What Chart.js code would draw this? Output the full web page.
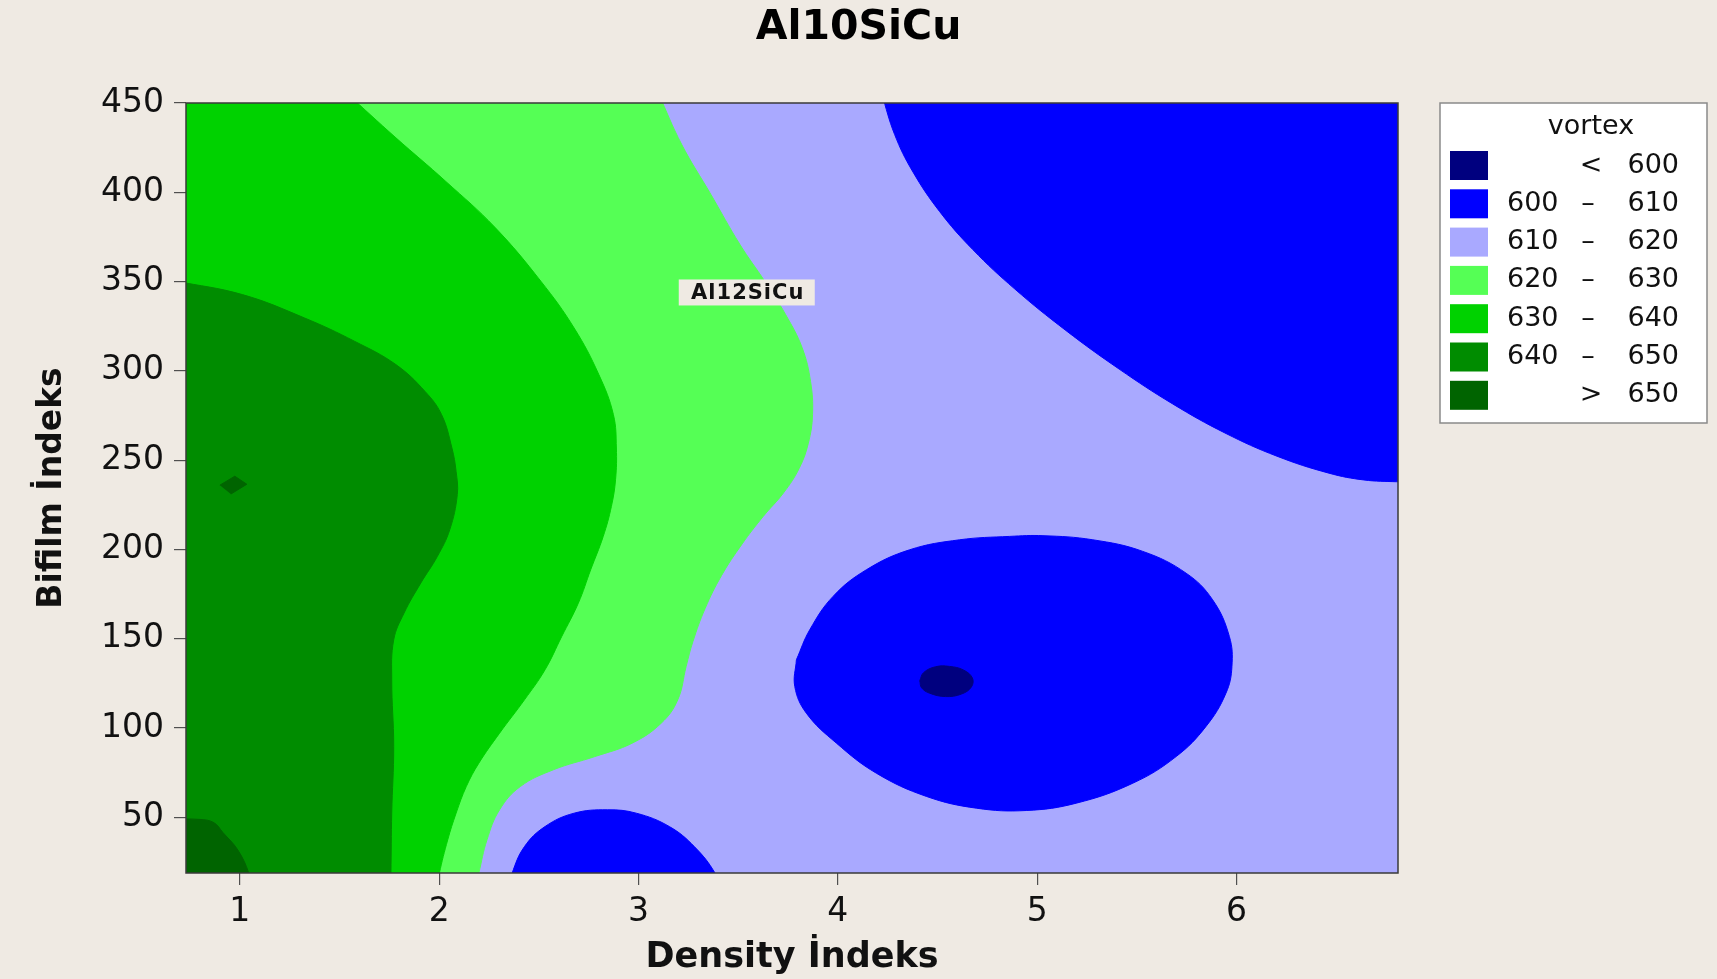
<!DOCTYPE html>
<html>
<head>
<meta charset="utf-8">
<title>Al10SiCu</title>
<script src="https://cdn.jsdelivr.net/npm/chart.js@4/dist/chart.umd.min.js"></script>
<style>
  html, body { margin: 0; padding: 0; background: #EFEAE3; }
  canvas { display: block; }
</style>
</head>
<body>
<canvas id="chart" width="1717" height="979" style="width:1717px;height:979px"></canvas>
<script>
// ---- axis ranges and ticks ----
const X_MIN = 0.73, X_MAX = 6.81;
const Y_MIN = 18.8, Y_MAX = 450;
const xTickValues = [1, 2, 3, 4, 5, 6];
const yTickValues = [50, 100, 150, 200, 250, 300, 350, 400, 450];

// ---- contour levels (vortex) ----
const legendTitle = 'vortex';
const levelBreaks = [600, 610, 620, 630, 640, 650];
const levelColors = ['#00007F', '#0000FF', '#A9A9FF', '#55FF55', '#00D200', '#008C00', '#006400'];

// ---- contour boundaries, [Density Indeks, Bifilm Indeks] ----
const contour620 = [
  [3.098, 455.8], [3.217, 426.7], [3.363, 398.8], [3.509, 370.7], [3.633, 350.2],
  [3.738, 331.5], [3.821, 312.9], [3.863, 294.1], [3.873, 275.5], [3.852, 259.5],
  [3.806, 245.4], [3.729, 231.9], [3.625, 218.4], [3.520, 203.1], [3.416, 185.3],
  [3.334, 166.9], [3.273, 148.4], [3.239, 134.5], [3.197, 115.8], [3.114, 102.7],
  [2.968, 91.5], [2.781, 84.0], [2.573, 76.6], [2.407, 67.2], [2.303, 54.2],
  [2.240, 37.4], [2.199, 18.7], [2.181, 10.0]
];
const contour630 = [
  [1.533, 455.8], [1.783, 430.5], [2.033, 406.1], [2.282, 380.1], [2.510, 350.2],
  [2.677, 324.0], [2.801, 297.9], [2.874, 275.5], [2.889, 256.8], [2.885, 239.3],
  [2.864, 224.1], [2.823, 207.3], [2.760, 188.6], [2.698, 169.9], [2.615, 151.3],
  [2.531, 132.6], [2.428, 115.8], [2.303, 97.1], [2.199, 80.3], [2.136, 67.2],
  [2.085, 52.3], [2.043, 37.4], [2.001, 18.7], [1.989, 10.0]
];
const contour640 = [
  [0.677, 350.3], [1.013, 342.7], [1.325, 329.6], [1.575, 316.6], [1.783, 303.5],
  [1.929, 288.5], [2.012, 275.5], [2.064, 256.8], [2.085, 243.7], [2.091, 230.7],
  [2.053, 211.0], [1.991, 196.1], [1.908, 181.2], [1.824, 164.4], [1.772, 149.4],
  [1.762, 127.0], [1.772, 89.6], [1.762, 52.3], [1.758, 18.7], [1.756, 10.0]
];
const contour650 = [
  [0.60, 49.0], [0.80, 48.8], [0.87, 47.0], [0.915, 41.5], [0.99, 31.7],
  [1.045, 18.7], [1.056, 10.0]
];
const peak650 = [[0.90, 236.0], [0.975, 241.0], [1.035, 236.5], [0.955, 231.0]];
const contourUpperBlue = [
  [4.219, 455.5], [4.285, 432.3], [4.374, 411.9], [4.510, 389.3], [4.677, 367.9],
  [4.888, 345.8], [5.144, 322.6], [5.411, 301.0], [5.678, 281.6], [5.942, 265.2],
  [6.203, 252.2], [6.464, 242.7], [6.639, 238.9], [6.804, 237.9], [6.950, 237.6]
];
const contourMidBlue = [
  [3.792, 138.2], [3.859, 155.0], [3.976, 173.7], [4.143, 188.6], [4.360, 199.8],
  [4.611, 205.4], [4.862, 207.3], [5.029, 207.7], [5.279, 205.4], [5.530, 198.9],
  [5.747, 186.7], [5.880, 171.8], [5.964, 151.3], [5.977, 134.5], [5.947, 119.5],
  [5.847, 100.9], [5.697, 84.0], [5.480, 69.1], [5.196, 57.9], [4.945, 53.8],
  [4.695, 55.1], [4.444, 61.7], [4.193, 74.7], [3.993, 91.5], [3.842, 108.3],
  [3.784, 123.2], [3.792, 138.2]
];
const contourLowBlue = [
  [2.351, 10.0], [2.366, 18.7], [2.428, 33.6], [2.531, 44.8], [2.677, 52.3],
  [2.844, 54.2], [2.989, 52.3], [3.155, 44.8], [3.280, 33.6], [3.384, 18.7], [3.405, 10.0]
];
const contourMin600 = [
  [4.411, 126.5], [4.43, 131.0], [4.49, 134.3], [4.56, 134.5], [4.63, 132.5],
  [4.675, 128.0], [4.67, 123.0], [4.62, 119.0], [4.54, 117.6], [4.46, 119.5],
  [4.42, 122.5], [4.411, 126.5]
];

// ---- text annotation inside the plot ----
const annotationText = 'Al12SiCu';
const annotationAt = { x: 3.543, y: 343.9 };

// ---- build filled regions, painted from back to front ----
const XL = X_MIN - 0.4, XR = X_MAX + 0.4, YB = Y_MIN - 30, YT = Y_MAX + 30;
const toPoints = arr => arr.map(([x, y]) => ({ x, y }));

// continue an open contour a little past both of its ends (outside the plot),
// so the spline keeps its direction where it crosses the frame
function extendEnds(c) {
  const a0 = c[0], a1 = c[1];
  const b0 = c[c.length - 1], b1 = c[c.length - 2];
  return [
    [a0[0] + (a0[0] - a1[0]), a0[1] + (a0[1] - a1[1])],
    ...c,
    [b0[0] + (b0[0] - b1[0]), b0[1] + (b0[1] - b1[1])]
  ];
}

let drawOrder = 100;
function region(points, color, tension) {
  return {
    data: toPoints(points),
    backgroundColor: color,
    borderColor: color,
    borderWidth: 1,
    fill: 'shape',
    pointRadius: 0,
    pointHoverRadius: 0,
    tension: tension,
    order: drawOrder--
  };
}

const datasets = [
  region([[XL, YB], [XL, YT], [XR, YT], [XR, YB]], levelColors[2], 0),
  region([[XL, YT], ...extendEnds(contour620), [XL, YB]], levelColors[3], 0.4),
  region([[XL, YT], ...extendEnds(contour630), [XL, YB]], levelColors[4], 0.4),
  region([...extendEnds(contour640), [XL, YB]], levelColors[5], 0.4),
  region([...extendEnds(contour650), [XL, YB]], levelColors[6], 0.4),
  region(peak650, levelColors[6], 0),
  region([...extendEnds(contourUpperBlue), [XR, YT]], levelColors[1], 0.4),
  region(extendEnds(contourLowBlue), levelColors[1], 0.4),
  region(contourMidBlue, levelColors[1], 0.4),
  region(contourMin600, levelColors[0], 0.4)
];

const PAGE_BG = '#EFEAE3';

const decorations = {
  id: 'decorations',
  afterDatasetsDraw(chart) {
    const { ctx, chartArea: a, scales: { x, y } } = chart;
    // label box
    const px = x.getPixelForValue(annotationAt.x);
    const py = y.getPixelForValue(annotationAt.y);
    ctx.save();
    ctx.fillStyle = PAGE_BG;
    ctx.fillRect(px - 68, py - 13, 136, 26);
    ctx.font = 'bold 21px "DejaVu Sans"';
    try { ctx.letterSpacing = '1px'; } catch (e) {}
    ctx.fillStyle = '#111';
    ctx.textAlign = 'center';
    ctx.textBaseline = 'middle';
    ctx.fillText(annotationText, px + 1, py + 1);
    ctx.restore();
    // plot frame
    ctx.save();
    ctx.strokeStyle = '#3a3a3a';
    ctx.lineWidth = 1.5;
    ctx.strokeRect(a.left, a.top, a.right - a.left, a.bottom - a.top);
    ctx.restore();
  },
  afterDraw(chart) {
    const ctx = chart.ctx;
    const box = { left: 1440, top: 103, width: 267, height: 320 };
    ctx.save();
    ctx.fillStyle = '#FFFFFF';
    ctx.fillRect(box.left, box.top, box.width, box.height);
    ctx.strokeStyle = '#8a8a8a';
    ctx.lineWidth = 1.5;
    ctx.strokeRect(box.left, box.top, box.width, box.height);

    ctx.font = '27px "DejaVu Sans"';
    ctx.fillStyle = '#111';
    ctx.textBaseline = 'middle';
    ctx.textAlign = 'center';
    ctx.fillText(legendTitle, 1591, 127);

    const n = levelColors.length;
    for (let i = 0; i < n; i++) {
      const cy = 165.5 + i * 38.3;
      ctx.fillStyle = levelColors[i];
      ctx.fillRect(1450, cy - 14.5, 38, 29);
      ctx.fillStyle = '#111';
      if (i === 0 || i === n - 1) {
        ctx.textAlign = 'center';
        ctx.fillText(i === 0 ? '<' : '>', 1591, cy);
        ctx.textAlign = 'right';
        ctx.fillText(String(i === 0 ? levelBreaks[0] : levelBreaks[levelBreaks.length - 1]), 1679, cy);
      } else {
        ctx.textAlign = 'left';
        ctx.fillText(String(levelBreaks[i - 1]), 1507, cy);
        ctx.textAlign = 'center';
        ctx.fillText('\u2013', 1588, cy);
        ctx.textAlign = 'right';
        ctx.fillText(String(levelBreaks[i]), 1679, cy);
      }
    }
    ctx.restore();
  }
};

Chart.defaults.font.family = '"DejaVu Sans"';
Chart.defaults.color = '#111';

new Chart(document.getElementById('chart'), {
  type: 'line',
  data: { datasets },
  options: {
    responsive: false,
    devicePixelRatio: 1,
    animation: false,
    events: [],
    layout: { padding: 0 },
    elements: { line: { capBezierPoints: false } },
    plugins: {
      legend: { display: false },
      tooltip: { enabled: false },
      filler: { propagate: false },
      title: {
        display: true,
        text: 'Al10SiCu',
        color: '#000',
        font: { family: '"DejaVu Sans"', size: 41, weight: 'bold', lineHeight: 1.2 },
        padding: { top: 4, bottom: 49.8 }
      }
    },
    scales: {
      x: {
        type: 'linear',
        min: X_MIN,
        max: X_MAX,
        afterBuildTicks: s => { s.ticks = xTickValues.map(v => ({ value: v })); },
        afterFit: s => { s.height = 106; },
        ticks: { autoSkip: false, maxRotation: 0, padding: 8, color: '#111', font: { size: 33 } },
        grid: { display: true, drawOnChartArea: false, drawTicks: true, tickLength: 12, color: '#505050', lineWidth: 1.2 },
        border: { display: false },
        title: {
          display: true,
          text: 'Density İndeks',
          color: '#111',
          font: { size: 35, weight: 'bold', lineHeight: 1.2 },
          padding: { top: 0, bottom: 0 }
        }
      },
      y: {
        type: 'linear',
        min: Y_MIN,
        max: Y_MAX,
        afterBuildTicks: s => { s.ticks = yTickValues.map(v => ({ value: v })); },
        afterFit: s => { s.width = 186; },
        ticks: { autoSkip: false, padding: 10, color: '#111', font: { size: 33 } },
        grid: { display: true, drawOnChartArea: false, drawTicks: true, tickLength: 12, color: '#505050', lineWidth: 1.2 },
        border: { display: false },
        title: {
          display: true,
          text: 'Bifilm İndeks',
          color: '#111',
          font: { size: 33, weight: 'bold', lineHeight: 1.2 },
          padding: { top: 33, bottom: 0 }
        }
      },
      // empty right-hand axis that reserves the room taken by the legend
      yRight: {
        type: 'linear',
        position: 'right',
        display: true,
        min: Y_MIN,
        max: Y_MAX,
        afterFit: s => { s.width = 319; },
        ticks: { display: false },
        grid: { display: false },
        border: { display: false },
        title: { display: false }
      }
    }
  },
  plugins: [decorations]
});
</script>
</body>
</html>
